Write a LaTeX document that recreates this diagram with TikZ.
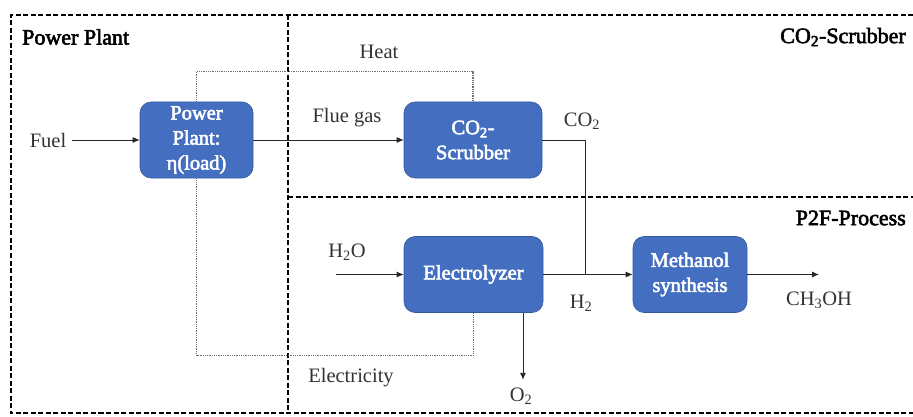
\documentclass[tikz,border=0pt]{standalone}
\usepackage{fontspec}
\setmainfont{Liberation Serif}
\usepackage{tikz}
\usetikzlibrary{arrows.meta, calc}
\definecolor{boxblue}{RGB}{68,110,192}
\definecolor{boxedge}{RGB}{52,88,160}
\definecolor{labelgray}{RGB}{50,50,50}
\definecolor{wiregray}{RGB}{110,110,110}
% heavy text: fill and stroke the glyphs of the regular face
\newcommand{\heavyon}{\special{pdf:literal direct 2 Tr 0.55 w}}
\newcommand{\heavyoff}{\special{pdf:literal direct 0 Tr}}

\begin{document}
\begin{tikzpicture}[x=1pt, y=-1pt,
    unit/.style={rectangle, rounded corners=11pt, fill=boxblue, draw=boxedge,
                 line width=0.6pt, text=white, align=center, inner sep=0pt,
                 minimum height=76pt,
                 font=\fontsize{20.5}{25}\selectfont},
    region/.style={font=\fontsize{22}{26}\selectfont, inner sep=0pt},
    flowlabel/.style={font=\fontsize{20.5}{24}\selectfont, text=labelgray,
                      inner sep=0pt},
    border/.style={line width=2.6pt, dash pattern=on 5pt off 2.5pt},
    flow/.style={line width=0.9pt, draw=black!85,
                 -{Latex[length=7pt, width=6pt]}},
    pipe/.style={line width=0.9pt, draw=black!85},
    energy/.style={line width=1.1pt, draw=wiregray,
                   dash pattern=on 1pt off 0.8pt},
]
\useasboundingbox (0,0) rectangle (913,417);

% system boundaries
\draw[border] (913,15) -- (11,15) -- (11,413) -- (913,413);
\draw[border] (288,15) -- (288,413);
\draw[border] (288,197) -- (913,197);

\node[region, anchor=west] (lblpp) at (22,37) {\heavyon Power Plant\heavyoff};
\node[region, anchor=east] (lblscrub) at (906,37) {\heavyon CO\textsubscript{2}-Scrubber\heavyoff};
\node[region, anchor=east] (lblp2f) at (906,218) {\heavyon P2F-Process\heavyoff};

% units
\node[unit, minimum width=113pt] (pp) at (196.5,140) {\heavyon Power\\Plant:\\η(load)\heavyoff};
\node[unit, minimum width=138pt] (scrub) at (473,140) {\heavyon CO\textsubscript{2}-\\Scrubber\heavyoff};
\node[unit, minimum width=139pt] (elec) at (473.5,274.5) {\heavyon Electrolyzer\heavyoff};
\node[unit, minimum width=114pt] (meoh) at (690,274.5) {\heavyon Methanol\\synthesis\heavyoff};

% streams
\node[flowlabel] (fuel) at (48,140) {Fuel};
\draw[flow] (fuel.east) ++(6,0) -- (pp.west);

\draw[flow] (pp.east) -- (scrub.west);
\node[flowlabel] (flue) at (347,118) {Flue gas};

\coordinate (junc) at (585.5,274.5);
\draw[pipe] (scrub.east) -| (junc);
\node[flowlabel] (co2) at (582,121) {CO\textsubscript{2}};

\coordinate (h2oin) at (336,274.5);
\node[flowlabel] (h2o) at (347,252) {H\textsubscript{2}O};
\draw[flow] (h2oin) -- (elec.west);

\draw[flow] (elec.east) -- (meoh.west);
\node[flowlabel] (h2) at (581,303) {H\textsubscript{2}};

\coordinate (o2out) at ($(elec.south)+(49.5,67)$);
\draw[flow] ($(elec.south)+(49.5,0)$) -- (o2out);
\node[flowlabel] (o2) at (521,396) {O\textsubscript{2}};

\coordinate (meohout) at (819,274.5);
\draw[flow] (meoh.east) -- (meohout);
\node[flowlabel] (ch3oh) at (819,300) {CH\textsubscript{3}OH};

% energy flows
\draw[energy] (pp.north) -- ++(0,-30) -| (scrub.north);
\node[flowlabel] (heat) at (379,52) {Heat};
\draw[energy] (pp.south) -- ++(0,177) -| (elec.south);
\node[flowlabel] (elecy) at (351,378) {Electricity};
\end{tikzpicture}
\end{document}
